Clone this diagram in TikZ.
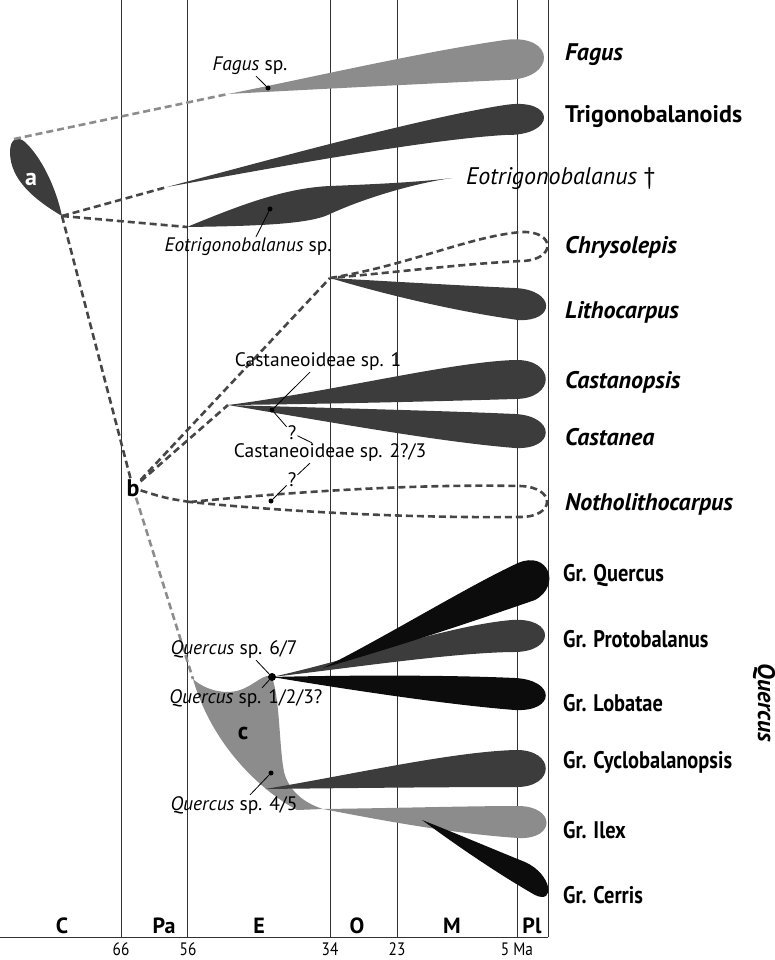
\documentclass[tikz,border=0pt]{standalone}
\usepackage{fontspec}
\setmainfont{PT Sans}
\newfontfamily\narrowfont[FakeStretch=0.85]{PT Sans}
\definecolor{cladedark}{RGB}{60, 60, 60}
\definecolor{cladelight}{RGB}{140, 140, 140}
\definecolor{cladeblack}{RGB}{12, 12, 12}
\definecolor{linkdark}{RGB}{70, 70, 70}
\definecolor{epochline}{RGB}{50, 50, 50}
\usetikzlibrary{positioning, calc}

\tikzset{
  boundary/.style={draw=epochline, line width=1pt},
  darkclade/.style={fill=cladedark},
  lightclade/.style={fill=cladelight},
  blackclade/.style={fill=cladeblack},
  ghostclade/.style={draw=linkdark, line width=2.6pt, dash pattern=on 7pt off 4pt},
  darklink/.style={draw=linkdark, line width=2.6pt, dash pattern=on 7pt off 4pt},
  lightlink/.style={draw=cladelight, line width=2.6pt, dash pattern=on 7pt off 4pt},
  leader/.style={draw=black, line width=0.8pt},
  fossildot/.style={circle, fill=black, inner sep=0pt, minimum size=5pt},
  fossilname/.style={inner sep=1pt, font=\fontsize{19.5}{21}\selectfont},
  cladeletter/.style={inner sep=1pt, font=\fontsize{24}{26}\selectfont\bfseries},
  genus/.style={anchor=base west, inner sep=0pt, font=\fontsize{24}{26}\selectfont\bfseries\itshape},
  tribe/.style={anchor=base west, inner sep=0pt, font=\fontsize{24}{26}\selectfont\bfseries},
  extinct/.style={anchor=base west, inner sep=0pt, font=\fontsize{24}{26}\selectfont\itshape},
  grouplabel/.style={anchor=base west, inner sep=0pt, font=\narrowfont\fontsize{24}{26}\selectfont\bfseries},
  period/.style={anchor=base, inner sep=0pt, font=\fontsize{22}{24}\selectfont\bfseries},
  age/.style={anchor=base, inner sep=0pt, font=\narrowfont\fontsize{18}{20}\selectfont}
}

\begin{document}
\begin{tikzpicture}[x=1pt, y=-1pt]
  \useasboundingbox (0,0) rectangle (774,960);

  % time scale
  \foreach \xx in {121,187,330,397,517,548}
    \draw[boundary] (\xx,0) -- (\xx,937);
  \draw[boundary] (0,937) -- (548,937);
  \foreach \px/\pl in {62/C,164/Pa,259/E,357/O,452/M,532/Pl}
    \node[period] (per\pl) at (\px,933) {\pl};
  \foreach \ax/\al in {121/66,188/56,330/34,397/23}
    \node[age] (age\al) at (\ax,955) {\al};
  \node[age] (age5) at (517,955) {5 Ma};

  % branch points
  \coordinate (aTop) at (14,139);
  \coordinate (aTip) at (62,216);
  \coordinate (fagusStart) at (228,94);
  \coordinate (trigStart) at (167,187);
  \coordinate (eotrStart) at (187,227);
  \coordinate (chrysFork) at (330,278);
  \coordinate (castFork) at (228,405);
  \coordinate (nothFork) at (190,502);
  \coordinate (cTop) at (193,679);
  \coordinate (qJunc) at (272,677);
  \coordinate (querStart) at (323,668);
  \coordinate (cyclStart) at (265,789);
  \coordinate (ilexStart) at (323,809);
  \coordinate (cerrStart) at (422,820);

  % Fagaceae stem (a)
  \fill[darkclade] (aTip) .. controls (35,200) and (10,180) .. (10,152)
    .. controls (10,138) and (18,136) .. (25,142)
    .. controls (42,158) and (56,188) .. (aTip) -- cycle;
  \node[cladeletter, text=white] (cladeA) at (31,179) {a};

  \fill[lightclade] (fagusStart) .. controls (300,80) and (420,52) .. (505,40)
    .. controls (556,33) and (558,80) .. (505,80)
    .. controls (420,84) and (300,90) .. (fagusStart) -- cycle;
  \fill[darkclade] (trigStart) .. controls (250,165) and (420,118) .. (505,105)
    .. controls (556,97) and (558,136) .. (505,135)
    .. controls (420,140) and (250,172) .. (trigStart) -- cycle;
  \fill[darkclade] (eotrStart) .. controls (240,205) and (285,188) .. (330,186)
    .. controls (380,184) and (420,182) .. (452,178)
    .. controls (410,184) and (360,200) .. (330,214)
    .. controls (310,224) and (260,226) .. (eotrStart) -- cycle;

  % Castaneoideae (b)
  \draw[ghostclade] (chrysFork) .. controls (410,265) and (470,236) .. (522,232)
    .. controls (556,231) and (556,260) .. (522,261)
    .. controls (460,264) and (400,272) .. (chrysFork);
  \fill[darkclade] (chrysFork) .. controls (400,282) and (470,286) .. (515,288)
    .. controls (556,290) and (556,322) .. (518,320)
    .. controls (460,312) and (390,296) .. (chrysFork) -- cycle;
  \fill[darkclade] (castFork) .. controls (330,392) and (450,362) .. (515,360)
    .. controls (556,359) and (556,399) .. (515,399)
    .. controls (450,401) and (330,404) .. (castFork) -- cycle;
  \fill[darkclade] (castFork) .. controls (330,408) and (450,411) .. (515,414)
    .. controls (556,416) and (556,450) .. (515,448)
    .. controls (440,442) and (330,422) .. (castFork) -- cycle;
  \draw[ghostclade] (nothFork) .. controls (300,491) and (420,484) .. (520,486)
    .. controls (556,487) and (556,517) .. (520,517)
    .. controls (420,518) and (300,513) .. (nothFork);

  % Quercus (c)
  \fill[lightclade] (cTop) .. controls (205,690) and (225,695) .. (240,690)
    .. controls (255,685) and (265,672) .. (qJunc)
    .. controls (280,700) and (279,745) .. (284,772)
    .. controls (290,795) and (310,805) .. (ilexStart) -- (297,810)
    .. controls (260,790) and (212,745) .. (cTop) -- cycle;
  \fill[darkclade] (qJunc) .. controls (350,660) and (450,625) .. (512,620)
    .. controls (556,617) and (556,653) .. (512,652)
    .. controls (450,653) and (350,668) .. (qJunc) -- cycle;
  \fill[blackclade] (querStart) .. controls (380,640) and (470,585) .. (518,563)
    .. controls (548,550) and (562,585) .. (535,600)
    .. controls (500,612) and (420,640) .. (querStart) -- cycle;
  \fill[blackclade] (qJunc) .. controls (350,675) and (450,675) .. (515,678)
    .. controls (556,680) and (556,712) .. (515,710)
    .. controls (450,705) and (350,690) .. (qJunc) -- cycle;
  \fill[darkclade] (cyclStart) .. controls (350,775) and (450,752) .. (515,750)
    .. controls (556,749) and (556,788) .. (515,787)
    .. controls (450,787) and (350,788) .. (cyclStart) -- cycle;
  \fill[lightclade] (ilexStart) .. controls (400,808) and (470,806) .. (518,806)
    .. controls (556,806) and (556,840) .. (518,838)
    .. controls (460,834) and (400,824) .. (ilexStart) -- cycle;
  \fill[blackclade] (cerrStart) .. controls (460,835) and (500,852) .. (525,862)
    .. controls (552,874) and (556,905) .. (535,895)
    .. controls (500,875) and (460,848) .. (cerrStart) -- cycle;
  \node[cladeletter] (cladeC) at (243,733) {c};

  % dashed links
  \node[cladeletter] (cladeB) at (133,488) {b};
  \draw[lightlink] (aTop) -- (fagusStart);
  \draw[darklink] (aTip) -- (trigStart);
  \draw[darklink] (aTip) -- (eotrStart);
  \draw[darklink] (aTip) -- (cladeB);
  \draw[darklink] (cladeB) -- (chrysFork);
  \draw[darklink] (cladeB) -- (castFork);
  \draw[darklink] (cladeB) .. controls (165,498) .. (nothFork);
  \draw[lightlink] (cladeB) -- (cTop);

  % fossils
  \node[fossildot] (fagusDot) at (268,88) {};
  \node[fossilname] (fagusSp) at (250,66) {\textit{Fagus} sp.};
  \draw[leader] ([xshift=6pt]fagusSp.south) -- (fagusDot);
  \node[fossildot] (eotrDot) at (270,209) {};
  \node[fossilname] (eotrSp) at (248,247) {\textit{Eotrigonobalanus} sp.};
  \draw[leader] ([xshift=8pt]eotrSp.north) -- (eotrDot);

  \node[fossildot] (castDot) at (272,410) {};
  \node[fossilname] (castSpA) at (318,362) {Castaneoideae sp. 1};
  \draw[leader] ([xshift=-8pt]castSpA.south) -- (castDot);
  \node[fossilname] (qmarkA) at (292,433) {?};
  \node[fossilname] (castSpB) at (330,453) {Castaneoideae sp. 2?/3};
  \node[fossilname] (qmarkB) at (292,480) {?};
  \node[fossildot] (nothDot) at (271,501) {};
  \draw[leader] (castDot) -- (qmarkA);
  \draw[leader] (qmarkA) -- ([xshift=-18pt]castSpB.north);
  \draw[leader] ([xshift=-20pt]castSpB.south) -- (qmarkB);
  \draw[leader] (qmarkB) -- (nothDot);

  \node[fossildot, minimum size=8pt] (qDot) at (qJunc) {};
  \node[fossilname] (querSpA) at (234,650) {\textit{Quercus} sp. 6/7};
  \node[fossilname] (querSpB) at (246,698) {\textit{Quercus} sp. 1/2/3?};
  \node[fossildot] (querDot) at (271,773) {};
  \node[fossilname] (querSpC) at (234,805) {\textit{Quercus} sp. 4/5};
  \draw[leader] ([xshift=22pt]querSpA.south) -- (qDot);
  \draw[leader] ([xshift=16pt]querSpB.north) -- (qDot);
  \draw[leader] ([xshift=16pt]querSpC.north) -- (querDot);

  % taxon names
  \node[genus] (fagus) at (565,61) {Fagus};
  \node[tribe] (trig) at (565,123) {Trigonobalanoids};
  \node[extinct] (eotr) at (466,185) {Eotrigonobalanus {\upshape\textdagger}};
  \node[genus] (chrys) at (565,253) {Chrysolepis};
  \node[genus] (litho) at (565,318) {Lithocarpus};
  \node[genus] (castp) at (565,388) {Castanopsis};
  \node[genus] (caste) at (565,445) {Castanea};
  \node[genus] (notho) at (565,510) {Notholithocarpus};
  \node[grouplabel] (grQuer) at (563,581) {Gr. Quercus};
  \node[grouplabel] (grProt) at (563,647) {Gr. Protobalanus};
  \node[grouplabel] (grLoba) at (563,711) {Gr. Lobatae};
  \node[grouplabel] (grCycl) at (563,768) {Gr. Cyclobalanopsis};
  \node[grouplabel] (grIlex) at (563,838) {Gr. Ilex};
  \node[grouplabel] (grCerr) at (563,903) {Gr. Cerris};
  \node[rotate=-90, inner sep=0pt, font=\fontsize{24}{26}\selectfont\bfseries\itshape] (quercus) at (764,703) {Quercus};
\end{tikzpicture}
\end{document}
